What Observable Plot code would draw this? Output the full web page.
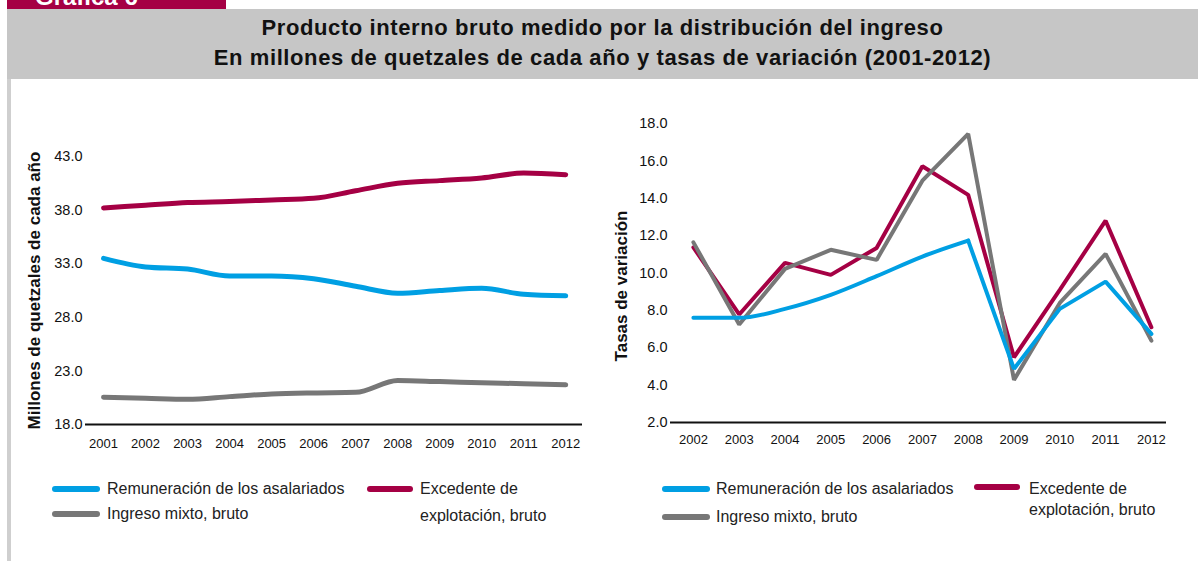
<!DOCTYPE html>
<html>
<head>
<meta charset="utf-8">
<script src="https://cdn.jsdelivr.net/npm/d3@7"></script>
<script src="https://cdn.jsdelivr.net/npm/@observablehq/plot@0.6"></script>
<style>
  html, body { margin: 0; padding: 0; background: #fff; }
  body { width: 1198px; height: 561px; position: relative; overflow: hidden; font-family: "Liberation Sans", Arial, sans-serif; }
  .tab { position: absolute; left: 7px; top: 0; width: 219px; height: 10px; background: #a50044; overflow: hidden; }
  .tab span { position: absolute; left: 28px; top: -17px; color: #fff; font-weight: bold; font-size: 24px; }
  .header { position: absolute; left: 7px; top: 9px; width: 1191px; height: 70px; background: #c6c6c6; }
  .header div { position: absolute; left: 0; width: 100%; text-align: center; font-weight: bold; font-size: 22px; letter-spacing: 0.6px; color: #111; line-height: 1; }
  .border { position: absolute; left: 7px; top: 79px; width: 4px; height: 482px; background: #cfcfcf; }
  .plot { position: absolute; top: 80px; }
  .leg { position: absolute; font-size: 16px; color: #222; white-space: nowrap; line-height: 1; }
  .sw { position: absolute; height: 6px; border-radius: 3px; }
  svg g[aria-label="y-axis label"] text { font-weight: bold; font-size: 17px; fill: #111; }
</style>
</head>
<body>
<div class="tab"><span>Gráfica 6</span></div>
<div class="header">
  <div style="top:8px">Producto interno bruto medido por la distribución del ingreso</div>
  <div style="top:38px">En millones de quetzales de cada año y tasas de variación (2001-2012)</div>
</div>
<div class="border"></div>
<div id="left" class="plot" style="left:0px"></div>
<div id="right" class="plot" style="left:600px"></div>
<div id="legends"></div>
<script>
// ---- Data ----
const seriesNames = ["Remuneración de los asalariados", "Excedente de explotación, bruto", "Ingreso mixto, bruto"];
const seriesColors = ["#009fe3", "#a50044", "#777777"];

const years1 = [2001, 2002, 2003, 2004, 2005, 2006, 2007, 2008, 2009, 2010, 2011, 2012];
const remun1 = [33.5, 32.7, 32.5, 31.85, 31.85, 31.6, 30.9, 30.25, 30.5, 30.7, 30.15, 30.0];
const exced1 = [38.2, 38.45, 38.7, 38.8, 38.95, 39.1, 39.8, 40.5, 40.75, 41.0, 41.45, 41.3];
const mixto1 = [20.55, 20.45, 20.35, 20.6, 20.85, 20.95, 21.0, 22.1, 22.0, 21.9, 21.8, 21.7];
const yTicks1 = [18, 23, 28, 33, 38, 43];

const years2 = [2002, 2003, 2004, 2005, 2006, 2007, 2008, 2009, 2010, 2011, 2012];
const remun2 = [7.6, 7.6, 8.08, 8.83, 9.83, 10.88, 11.73, 4.87, 8.08, 9.54, 6.74];
const exced2 = [11.37, 7.78, 10.54, 9.9, 11.34, 15.71, 14.18, 5.49, 9.1, 12.8, 7.1];
const mixto2 = [11.64, 7.24, 10.22, 11.24, 10.7, 14.94, 17.44, 4.28, 8.4, 11.02, 6.38];
const yTicks2 = [2, 4, 6, 8, 10, 12, 14, 16, 18];

const toRows = (years, arrs) => arrs.flatMap((arr, i) => arr.map((v, j) => ({year: years[j], value: v, series: seriesNames[i]})));
const rows1 = toRows(years1, [remun1, exced1, mixto1]);
const rows2 = toRows(years2, [remun2, exced2, mixto2]);
const blue2 = rows2.filter(d => d.series === seriesNames[0]);

const colorScale = {domain: seriesNames, range: seriesColors};
const font = "'Liberation Sans', Arial, sans-serif";

// ---- Left chart ----
const left = Plot.plot({
  width: 600, height: 380,
  marginLeft: 85, marginRight: 18, marginTop: 76, marginBottom: 36,
  style: {fontFamily: font, color: "#111", background: "transparent", overflow: "visible"},
  x: {domain: [2000.57, 2012.4]},
  y: {domain: [18, 43]},
  color: colorScale,
  marks: [
    Plot.axisY({ticks: yTicks1, tickFormat: d3.format(".1f"), tickSize: 0, tickPadding: 3, fontSize: 14.5,
      label: "Millones de quetzales de cada año", labelAnchor: "center", labelArrow: "none", labelOffset: 58}),
    Plot.axisX({ticks: years1, tickFormat: d => String(d), tickSize: 0, tickPadding: 14, fontSize: 13, label: null}),
    Plot.ruleY([18], {stroke: "#111", strokeWidth: 2}),
    Plot.line(rows1, {x: "year", y: "value", z: "series", stroke: "series", strokeWidth: 5, curve: "monotone-x", strokeLinecap: "round", strokeLinejoin: "round"})
  ]
});
document.getElementById("left").appendChild(left);

// ---- Right chart ----
const right = Plot.plot({
  width: 598, height: 380,
  marginLeft: 70, marginRight: 32, marginTop: 43, marginBottom: 38,
  style: {fontFamily: font, color: "#111", background: "transparent", overflow: "visible"},
  x: {domain: [2001.5, 2012.33]},
  y: {domain: [2, 18]},
  color: colorScale,
  marks: [
    Plot.axisY({ticks: yTicks2, tickFormat: d3.format(".1f"), tickSize: 0, tickPadding: 3, fontSize: 14.5,
      label: "Tasas de variación", labelAnchor: "center", labelArrow: "none", labelOffset: 56}),
    Plot.axisX({ticks: years2, tickFormat: d => String(d), tickSize: 0, tickPadding: 12, fontSize: 13, label: null}),
    Plot.ruleY([2], {stroke: "#111", strokeWidth: 2}),
    Plot.line(rows2.filter(d => d.series !== seriesNames[0]), {x: "year", y: "value", z: "series", stroke: "series", strokeWidth: 4, strokeLinejoin: "miter"}),
    Plot.line(blue2.filter(d => d.year <= 2008), {x: "year", y: "value", stroke: "series", strokeWidth: 4, curve: "monotone-x"}),
    Plot.line(blue2.filter(d => d.year >= 2008), {x: "year", y: "value", stroke: "series", strokeWidth: 4, strokeLinejoin: "miter"})
  ]
});
d3.select(right).select('g[aria-label="y-axis label"] text').attr("dx", -13);
document.getElementById("right").appendChild(right);

// ---- Legends (HTML) ----
const legItems = [
  // left
  {x: 52, y: 489, w: 48, text: ["Remuneración de los asalariados"], c: 0, tx: 107},
  {x: 367, y: 489, w: 46, text: ["Excedente de", "explotación, bruto"], c: 1, tx: 420, lh: 27},
  {x: 52, y: 514, w: 48, text: ["Ingreso mixto, bruto"], c: 2, tx: 107},
  // right
  {x: 662, y: 489, w: 48, text: ["Remuneración de los asalariados"], c: 0, tx: 716},
  {x: 974, y: 487, w: 46, text: ["Excedente de", "explotación, bruto"], c: 1, tx: 1029, lh: 21, ty: 2},
  {x: 662, y: 517, w: 48, text: ["Ingreso mixto, bruto"], c: 2, tx: 716}
];
const legDiv = document.getElementById("legends");
legItems.forEach(it => {
  const sw = document.createElement("div");
  sw.className = "sw";
  sw.style.left = it.x + "px"; sw.style.top = (it.y - 3) + "px"; sw.style.width = it.w + "px";
  sw.style.background = seriesColors[it.c];
  legDiv.appendChild(sw);
  it.text.forEach((t, k) => {
    const d = document.createElement("div");
    d.className = "leg";
    d.textContent = t;
    d.style.left = it.tx + "px";
    d.style.top = (it.y - 8 + (it.ty || 0) + k * (it.lh || 0)) + "px";
    legDiv.appendChild(d);
  });
});
</script>
</body>
</html>
